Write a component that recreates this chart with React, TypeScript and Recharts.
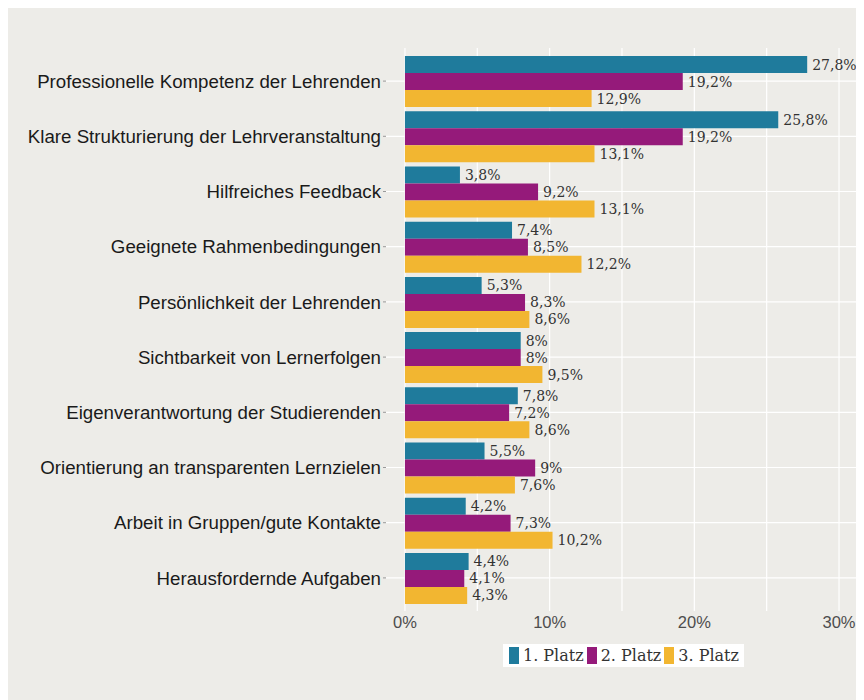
import React from 'react';
import {
  BarChart,
  Bar,
  XAxis,
  YAxis,
  CartesianGrid,
  Legend,
  LabelList,
} from 'recharts';

// categories, top to bottom
const categories = [
  'Professionelle Kompetenz der Lehrenden',
  'Klare Strukturierung der Lehrveranstaltung',
  'Hilfreiches Feedback',
  'Geeignete Rahmenbedingungen',
  'Persönlichkeit der Lehrenden',
  'Sichtbarkeit von Lernerfolgen',
  'Eigenverantwortung der Studierenden',
  'Orientierung an transparenten Lernzielen',
  'Arbeit in Gruppen/gute Kontakte',
  'Herausfordernde Aufgaben',
];

const platz1 = [27.8, 25.8, 3.8, 7.4, 5.3, 8, 7.8, 5.5, 4.2, 4.4];
const platz2 = [19.2, 19.2, 9.2, 8.5, 8.3, 8, 7.2, 9, 7.3, 4.1];
const platz3 = [12.9, 13.1, 13.1, 12.2, 8.6, 9.5, 8.6, 7.6, 10.2, 4.3];

const xTicks = [0, 5, 10, 15, 20, 25, 30];

const series = [
  { key: 'p1', name: '1. Platz', color: '#1f7b9c' },
  { key: 'p2', name: '2. Platz', color: '#951a7a' },
  { key: 'p3', name: '3. Platz', color: '#f2b631' },
];

const data = categories.map((name, i) => ({
  name,
  p1: platz1[i],
  p2: platz2[i],
  p3: platz3[i],
}));

const fmtLabel = (v: any) => String(v).replace('.', ',') + '%';

const Y_PAD = 5.5;

// grid lines through the middle of each category band (ggplot style)
const bandCenters = (props: any) => {
  try {
    const s = props.yAxis && props.yAxis.scale;
    const fn = typeof s === 'function' ? s : s && typeof s.map === 'function' ? (v: any) => s.map(v) : null;
    if (fn) {
      const bw = typeof s.bandwidth === 'function' ? s.bandwidth() : 0;
      const pts = categories.map((c) => fn(c) + bw / 2);
      if (pts.every((p) => Number.isFinite(p))) return pts;
    }
  } catch (e) {
    // fall through
  }
  const off = props.offset || {};
  const band = (off.height - 2 * Y_PAD) / categories.length;
  return categories.map((_, i) => off.top + Y_PAD + band * (i + 0.5));
};

const LegendBox = () => (
  <div
    style={{
      display: 'inline-flex',
      alignItems: 'center',
      background: '#fff',
      padding: '3px 2px 3px 6px',
      fontFamily: '"DejaVu Serif", serif',
      fontSize: 16,
      color: '#333',
      lineHeight: '17px',
    }}
  >
    {series.map((s) => (
      <span key={s.key} style={{ display: 'inline-flex', alignItems: 'center', marginRight: 3 }}>
        <span style={{ display: 'inline-block', width: 10, height: 17, background: s.color, marginRight: 4 }} />
        {s.name}
      </span>
    ))}
  </div>
);

export default function App() {
  return (
    <div style={{ width: 856, height: 692, background: '#edece8' }}>
      <style>{'body{overflow:hidden}'}</style>
      <BarChart
        width={856}
        height={692}
        data={data}
        layout="vertical"
        margin={{ top: 40, right: 4, bottom: 32, left: 0 }}
        barCategoryGap={2.6}
        barGap={0}
      >
        <CartesianGrid
          stroke="#ffffff"
          strokeWidth={1.2}
          verticalValues={xTicks}
          horizontalCoordinatesGenerator={bandCenters}
        />
        <XAxis
          type="number"
          domain={[-1.31, 31.45]}
          ticks={xTicks}
          tickFormatter={(v: number) => (v % 10 === 0 ? `${v}%` : '')}
          axisLine={false}
          tickLine={false}
          tickSize={5}
          tickMargin={0}
          height={33}
          tick={{ fill: '#4d4d4d', fontSize: 16.5, fontFamily: '"Liberation Sans", Arial, sans-serif' }}
        />
        <YAxis
          type="category"
          dataKey="name"
          width={378}
          axisLine={false}
          tickSize={3}
          tickMargin={2}
          tickLine={{ stroke: '#9a9a9a' }}
          padding={{ top: Y_PAD, bottom: Y_PAD }}
          interval={0}
          tick={{ fill: '#1a1a1a', fontSize: 18.7, fontFamily: '"Liberation Sans", Arial, sans-serif' }}
        />
        <Legend
          verticalAlign="bottom"
          content={<LegendBox />}
          wrapperStyle={{ left: 495, width: 'auto', bottom: 32 }}
        />
        {series.map((s) => (
          <Bar key={s.key} dataKey={s.key} name={s.name} fill={s.color} isAnimationActive={false}>
            <LabelList
              dataKey={s.key}
              position="right"
              offset={5}
              formatter={fmtLabel}
              fill="#333"
              fontSize={14}
              fontFamily='"DejaVu Serif", serif'
            />
          </Bar>
        ))}
      </BarChart>
    </div>
  );
}
